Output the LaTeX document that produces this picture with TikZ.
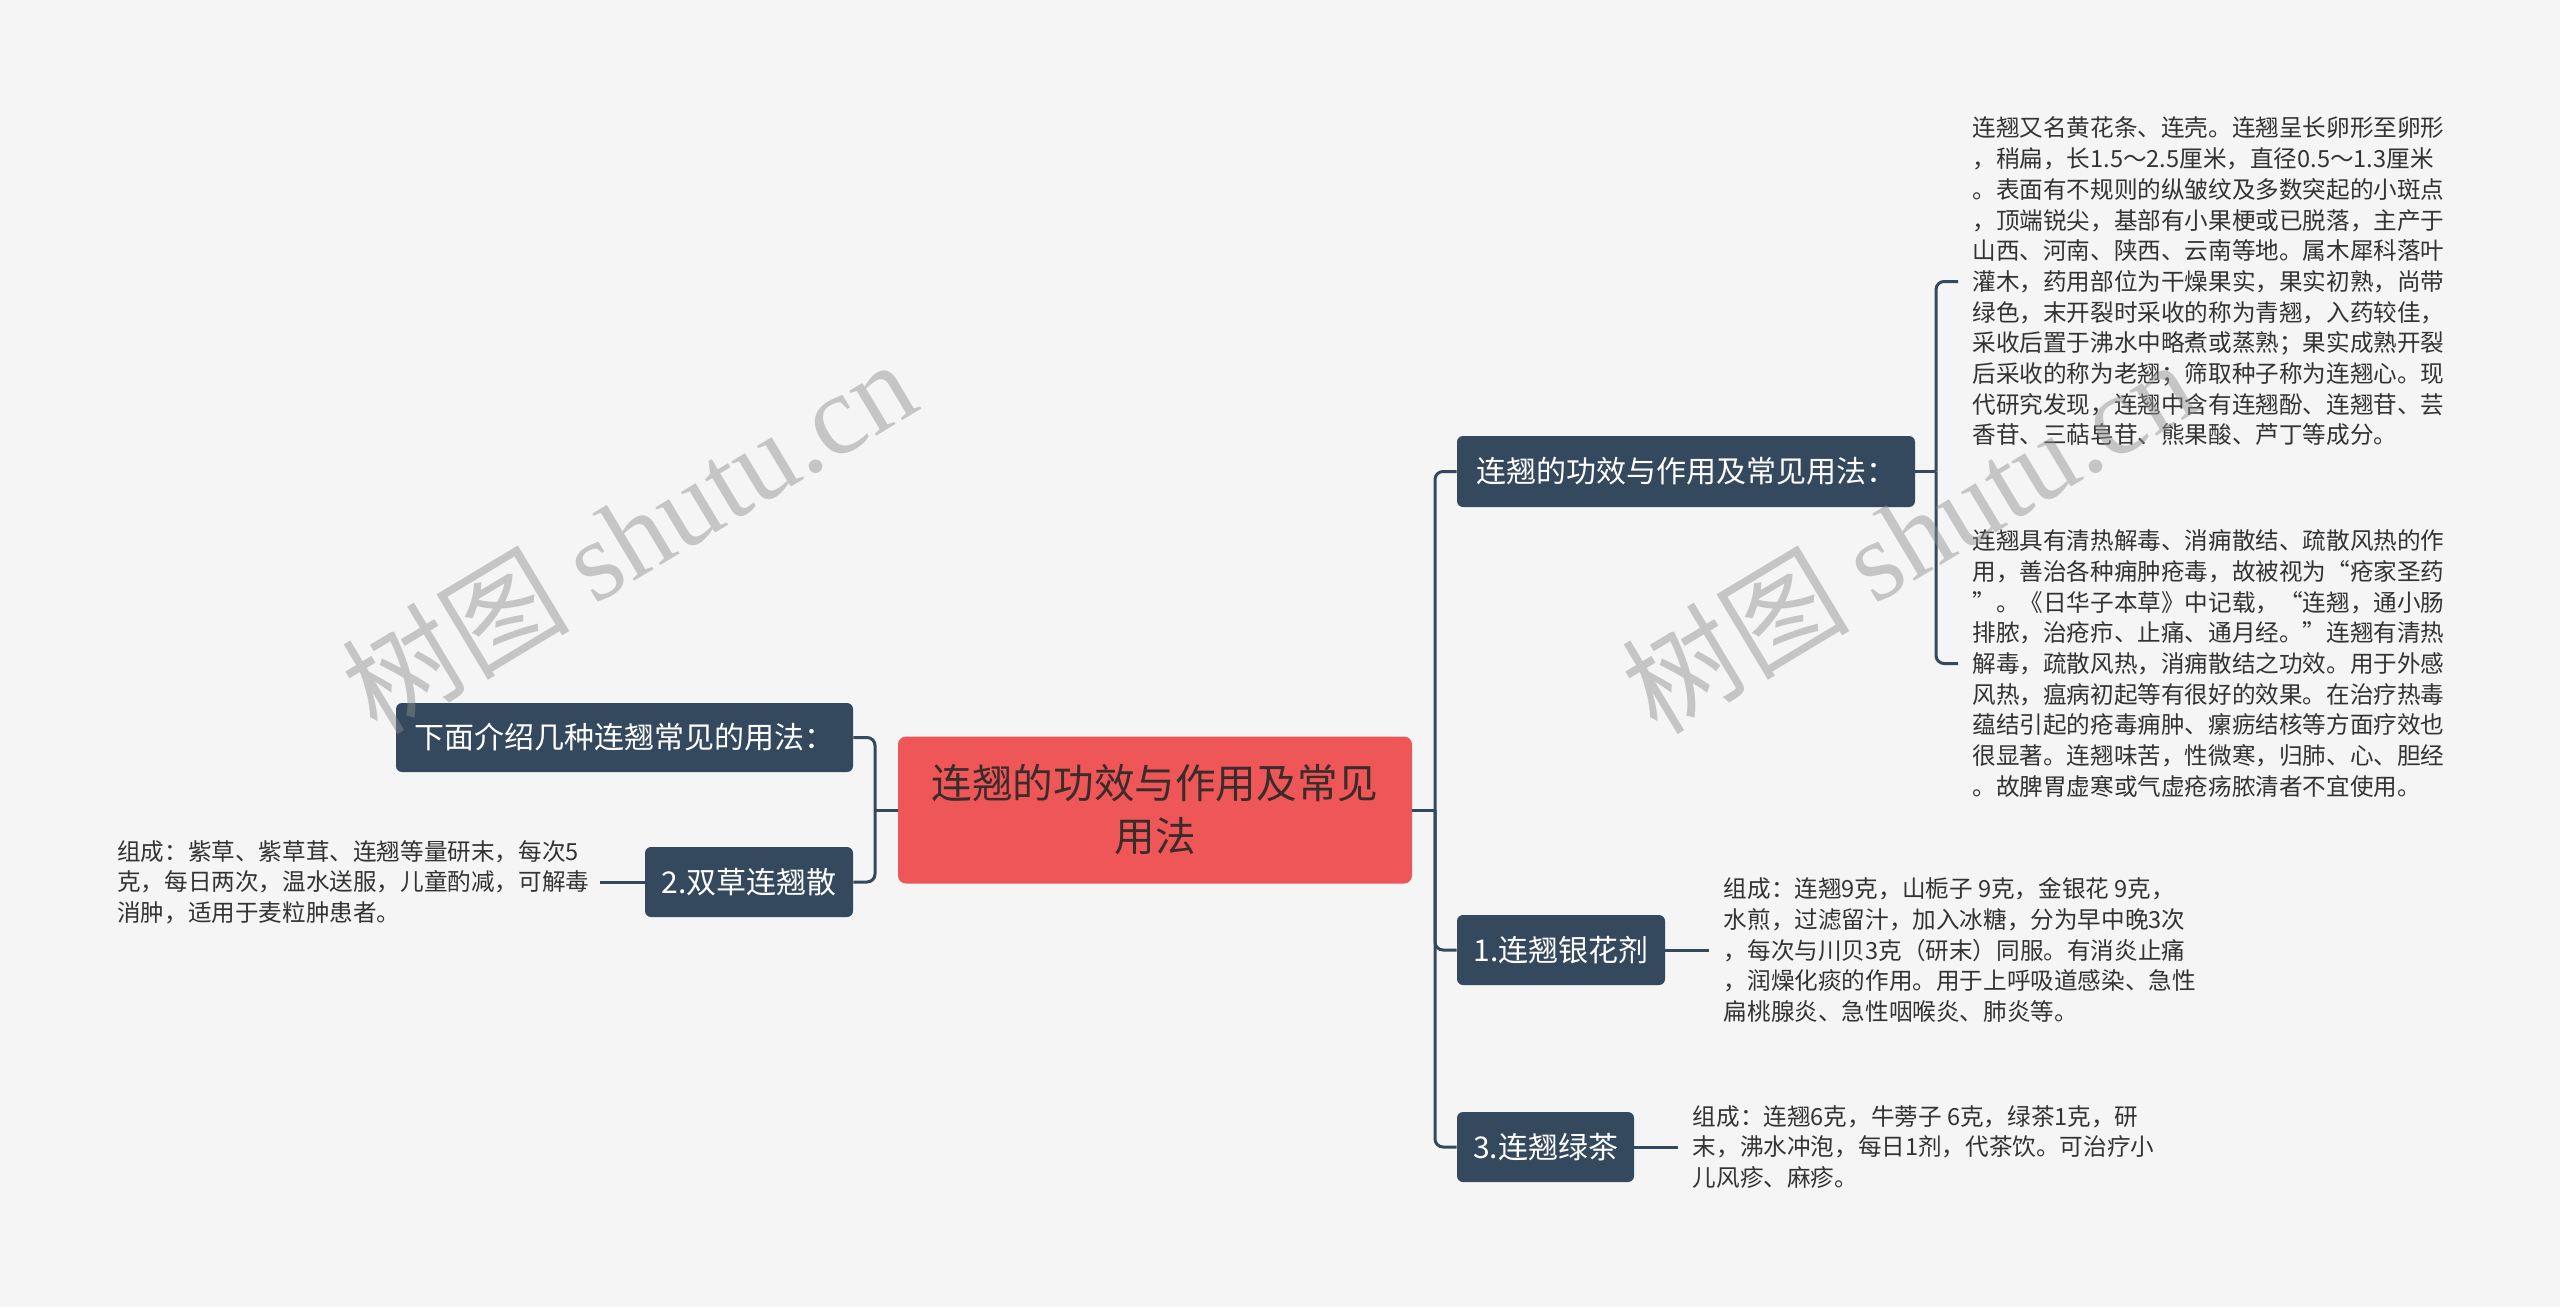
\documentclass[tikz,border=0pt]{standalone}
\usepackage{fontspec}
\setmainfont{Noto Sans CJK SC}
\newfontfamily\wmlatin{Liberation Serif}
\usetikzlibrary{positioning}
\definecolor{slate}{HTML}{34495E}
\definecolor{coral}{HTML}{EF5657}
\definecolor{rootink}{HTML}{3B2C2C}
\definecolor{paper}{HTML}{F5F5F5}
\definecolor{ink}{HTML}{333333}

\begin{document}
\begin{tikzpicture}[x=0.5pt,y=-0.5pt,
branch/.style={fill=slate,text=white,rounded corners=3pt,minimum height=35pt,inner xsep=0pt,font=\fontsize{15pt}{17pt}\selectfont},
root/.style={fill=coral,text=rootink,rounded corners=4pt,align=center,minimum width=257pt,minimum height=73.5pt,font=\fontsize{20.3pt}{26.5pt}\selectfont},
note/.style={text=ink,align=left,inner sep=0pt,font=\fontsize{11.8pt}{15.35pt}\selectfont},
conn/.style={draw=slate,line width=1.5pt,rounded corners=4pt},
wm/.style={text=black!45,text opacity=0.45,rotate=31,font=\fontsize{57pt}{57pt}\selectfont}]
\fill[paper] (0,0) rectangle (2560,1307);
% centre
\node[root] (root) at (1155,810) {连翘的功效与作用及常见\\用法};
% left side
\node[branch,minimum width=228.5pt,minimum height=34.5pt] (intro) at (624.5,737.5) {下面介绍几种连翘常见的用法：};
\node[branch,minimum width=104pt] (shuangcao) at (749,882) {2.双草连翘散};
\node[note,left=27.5pt of shuangcao] (shuangcaotxt) {组成：紫草、紫草茸、连翘等量研末，每次5\\
克，每日两次，温水送服，儿童酌减，可解毒\\
消肿，适用于麦粒肿患者。};
% right side
\node[branch,minimum width=229pt,minimum height=35.5pt] (effect) at (1686,471.5) {连翘的功效与作用及常见用法：};
\node[branch,minimum width=104pt] (yinhua) at (1561,950) {1.连翘银花剂};
\node[branch,minimum width=88.5pt] (lvcha) at (1545.5,1147) {3.连翘绿茶};
\node[note,anchor=west] (desc) at (1972,281.5) {连翘又名黄花条、连壳。连翘呈长卵形至卵形\\
，稍扁，长1.5～2.5厘米，直径0.5～1.3厘米\\
。表面有不规则的纵皱纹及多数突起的小斑点\\
，顶端锐尖，基部有小果梗或已脱落，主产于\\
山西、河南、陕西、云南等地。属木犀科落叶\\
灌木，药用部位为干燥果实，果实初熟，尚带\\
绿色，末开裂时采收的称为青翘，入药较佳，\\
采收后置于沸水中略煮或蒸熟；果实成熟开裂\\
后采收的称为老翘；筛取种子称为连翘心。现\\
代研究发现，连翘中含有连翘酚、连翘苷、芸\\
香苷、三萜皂苷、熊果酸、芦丁等成分。};
\node[note,anchor=west] (use) at (1972,663.5) {连翘具有清热解毒、消痈散结、疏散风热的作\\
用，善治各种痈肿疮毒，故被视为“疮家圣药\\
”。《日华子本草》中记载，“连翘，通小肠\\
排脓，治疮疖、止痛、通月经。”连翘有清热\\
解毒，疏散风热，消痈散结之功效。用于外感\\
风热，瘟病初起等有很好的效果。在治疗热毒\\
蕴结引起的疮毒痈肿、瘰疬结核等方面疗效也\\
很显著。连翘味苦，性微寒，归肺、心、胆经\\
。故脾胃虚寒或气虚疮疡脓清者不宜使用。};
\node[note,right=29pt of yinhua] (yinhuatxt) {组成：连翘9克，山栀子 9克，金银花 9克，\\
水煎，过滤留汁，加入冰糖，分为早中晚3次\\
，每次与川贝3克（研末）同服。有消炎止痛\\
，润燥化痰的作用。用于上呼吸道感染、急性\\
扁桃腺炎、急性咽喉炎、肺炎等。};
\node[note,right=29pt of lvcha] (lvchatxt) {组成：连翘6克，牛蒡子 6克，绿茶1克，研\\
末，沸水冲泡，每日1剂，代茶饮。可治疗小\\
儿风疹、麻疹。};
% connectors
\coordinate (lspine) at (875,810);
\coordinate (rspine) at (1435,810);
\coordinate (bspine) at (1936,471.5);
\draw[conn] (root.west) -- (lspine);
\draw[conn] (lspine) |- (intro.east);
\draw[conn] (lspine) |- (shuangcao.east);
\draw[conn] (shuangcao.west) -- ([xshift=5pt]shuangcaotxt.east);
\draw[conn] (root.east) -- (rspine);
\draw[conn] (rspine) |- (effect.west);
\draw[conn] (rspine) |- (yinhua.west);
\draw[conn] (rspine) |- (lvcha.west);
\draw[conn] (effect.east) -- (bspine);
\draw[conn] (bspine) |- ([xshift=-7pt]desc.west);
\draw[conn] (bspine) |- ([xshift=-7pt]use.west);
\draw[conn] (yinhua.east) -- ([xshift=-7pt]yinhuatxt.west);
\draw[conn] (lvcha.east) -- ([xshift=-7pt]lvchatxt.west);
% watermark
\node[wm] (mark1) at (628,535) {树图 {\wmlatin shutu.cn}};
\node[wm] (mark2) at (1908,535) {树图 {\wmlatin shutu.cn}};
\end{tikzpicture}
\end{document}
